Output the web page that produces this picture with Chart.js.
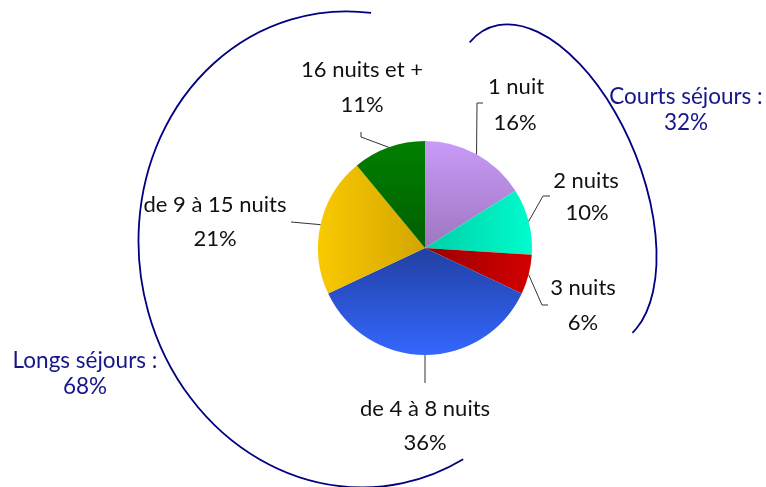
<!DOCTYPE html>
<html>
<head>
<meta charset="utf-8">
<script src="https://cdn.jsdelivr.net/npm/chart.js@4.4.0/dist/chart.umd.min.js"></script>
<style>
  html, body { margin: 0; padding: 0; background: #fff; }
  .chart-container { position: relative; width: 766px; height: 487px; }
</style>
</head>
<body>
<div class="chart-container">
  <canvas id="chart"></canvas>
</div>
<script>
// durée des séjours (en % des séjours)
const categories = ['1 nuit', '2 nuits', '3 nuits', 'de 4 à 8 nuits', 'de 9 à 15 nuits', '16 nuits et +'];
const shares = [16, 10, 6, 36, 21, 11];

const groupNames = ['Courts séjours :', 'Longs séjours :'];
const groupShares = [32, 68];

// slice gradients: direction + two stops
const gradients = [
  { dir: 'up', from: '#9e76bf', to: '#c99af8' },
  { dir: 'right', from: '#00cfa6', to: '#00fccd' },
  { dir: 'right', from: '#9c0000', to: '#d20000' },
  { dir: 'down', from: '#2240a2', to: '#3467ff' },
  { dir: 'left', from: '#d2a600', to: '#f9c900' },
  { dir: 'up', from: '#005f00', to: '#008000' }
];

// label placement, offsets from pie centre (text, percent, leader elbow)
const labelPlace = [
  { t: [91, -161], p: [90, -125], path: [[52, -145], [58, -145]] },
  { t: [161, -67], p: [162, -35], path: [[118, -52], [125, -52]] },
  { t: [158, 40], p: [158, 75], path: [[117, 57], [123, 57]] },
  { t: [0, 161], p: [0, 195], path: [[0, 135]] },
  { t: [-210, -43], p: [-210, -9], path: [[-134, -26]] },
  { t: [-63, -178], p: [-63, -143], path: [[-64, -111], [-64, -116]] }
];

// points traced along the two hand-drawn brackets (an elliptic arc is fitted through them)
const brackets = [
  {
    text: [686, 97], pct: [686, 123], ccw: false,
    pts: [[470,43],[480,32],[503,23],[527,28],[553,45],[580,63],[613,103],[633,153],[647,197],[656,237],[657,260],[655,290],[647,310],[632,332]]
  },
  {
    text: [85, 361], pct: [85, 387], ccw: true,
    pts: [[371,14],[330,12],[280,20],[230,50],[190,97],[152,152],[139,217],[137,240],[143,290],[152,317],[163,350],[217,430],[267,463],[380,485],[430,477],[463,459]]
  }
];

const FONT = 'Lato, "Open Sans", sans-serif';

function pieGeom(chart) {
  const el = chart.getDatasetMeta(0).data[0];
  return { cx: el.x, cy: el.y, r: el.outerRadius };
}

function sliceColor(context) {
  const chart = context.chart;
  const g = gradients[context.dataIndex];
  if (!chart.chartArea) return g.to;
  const a = chart.chartArea;
  const cx = (a.left + a.right) / 2, cy = (a.top + a.bottom) / 2, r = Math.min(a.width, a.height) / 2;
  let grad;
  if (g.dir === 'up') grad = chart.ctx.createLinearGradient(0, cy, 0, cy - r);
  else if (g.dir === 'down') grad = chart.ctx.createLinearGradient(0, cy, 0, cy + r);
  else if (g.dir === 'right') grad = chart.ctx.createLinearGradient(cx, 0, cx + r, 0);
  else grad = chart.ctx.createLinearGradient(cx, 0, cx - r, 0);
  grad.addColorStop(0, g.from);
  grad.addColorStop(1, g.to);
  return grad;
}

// least squares conic fit -> ellipse parameters
function fitEllipse(pts) {
  const mx = pts.reduce((s, p) => s + p[0], 0) / pts.length;
  const my = pts.reduce((s, p) => s + p[1], 0) / pts.length;
  const S = 100;
  const M = [0, 1, 2, 3, 4].map(() => [0, 0, 0, 0, 0, 0]);
  pts.forEach(p => {
    const x = (p[0] - mx) / S, y = (p[1] - my) / S;
    const r = [x * x, x * y, y * y, x, y];
    for (let i = 0; i < 5; i++) {
      for (let j = 0; j < 5; j++) M[i][j] += r[i] * r[j];
      M[i][5] += r[i];
    }
  });
  for (let i = 0; i < 5; i++) {
    let piv = i;
    for (let k = i + 1; k < 5; k++) if (Math.abs(M[k][i]) > Math.abs(M[piv][i])) piv = k;
    [M[i], M[piv]] = [M[piv], M[i]];
    for (let k = 0; k < 5; k++) {
      if (k === i) continue;
      const f = M[k][i] / M[i][i];
      for (let j = i; j < 6; j++) M[k][j] -= f * M[i][j];
    }
  }
  const [a, b, c, d, e] = M.map((row, i) => row[5] / row[i]);
  const det = 4 * a * c - b * b;
  if (det <= 0) return null;
  const x0 = (b * e - 2 * c * d) / det;
  const y0 = (b * d - 2 * a * e) / det;
  const F0 = a * x0 * x0 + b * x0 * y0 + c * y0 * y0 + d * x0 + e * y0 - 1;
  const th = 0.5 * Math.atan2(b, a - c);
  const co = Math.cos(th), si = Math.sin(th);
  const l1 = a * co * co + b * co * si + c * si * si;
  const l2 = a * si * si - b * si * co + c * co * co;
  if (-F0 / l1 <= 0 || -F0 / l2 <= 0) return null;
  return {
    cx: x0 * S + mx, cy: y0 * S + my,
    rx: Math.sqrt(-F0 / l1) * S, ry: Math.sqrt(-F0 / l2) * S, rot: th
  };
}

function paramAngle(el, p) {
  const dx = p[0] - el.cx, dy = p[1] - el.cy;
  const co = Math.cos(el.rot), si = Math.sin(el.rot);
  const u = dx * co + dy * si, v = -dx * si + dy * co;
  return Math.atan2(v / el.ry, u / el.rx);
}

function drawBracket(ctx, b) {
  const el = fitEllipse(b.pts);
  ctx.beginPath();
  if (el) {
    const t0 = paramAngle(el, b.pts[0]);
    const t1 = paramAngle(el, b.pts[b.pts.length - 1]);
    ctx.ellipse(el.cx, el.cy, el.rx, el.ry, el.rot, t0, t1, b.ccw);
  } else {
    b.pts.forEach((p, i) => i ? ctx.lineTo(p[0], p[1]) : ctx.moveTo(p[0], p[1]));
  }
  ctx.stroke();
}

const labelsPlugin = {
  id: 'pieLabels',
  afterDraw(chart) {
    const ctx = chart.ctx;
    const { cx, cy } = pieGeom(chart);
    const arcs = chart.getDatasetMeta(0).data;

    ctx.save();
    // leader lines
    ctx.strokeStyle = '#333';
    ctx.lineWidth = 1;
    arcs.forEach((arc, i) => {
      const mid = (arc.startAngle + arc.endAngle) / 2;
      ctx.beginPath();
      ctx.moveTo(arc.x + Math.cos(mid) * arc.outerRadius, arc.y + Math.sin(mid) * arc.outerRadius);
      labelPlace[i].path.forEach(p => ctx.lineTo(cx + p[0], cy + p[1]));
      ctx.stroke();
    });

    // slice labels
    ctx.fillStyle = '#111';
    ctx.font = '22px ' + FONT;
    ctx.textAlign = 'center';
    ctx.textBaseline = 'middle';
    categories.forEach((name, i) => {
      const lp = labelPlace[i];
      ctx.fillText(name, cx + lp.t[0], cy + lp.t[1]);
      ctx.fillText(shares[i] + '%', cx + lp.p[0], cy + lp.p[1]);
    });

    // group brackets
    ctx.strokeStyle = '#000080';
    ctx.lineWidth = 1.8;
    ctx.fillStyle = '#16168a';
    ctx.font = '22.5px ' + FONT;
    brackets.forEach((b, i) => {
      drawBracket(ctx, b);
      ctx.fillText(groupNames[i], b.text[0], b.text[1]);
      ctx.fillText(groupShares[i] + '%', b.pct[0], b.pct[1]);
    });
    ctx.restore();
  }
};

new Chart(document.getElementById('chart').getContext('2d'), {
  type: 'pie',
  data: {
    labels: categories,
    datasets: [{
      data: shares,
      backgroundColor: sliceColor,
      borderWidth: 0
    }]
  },
  options: {
    responsive: true,
    maintainAspectRatio: false,
    animation: false,
    layout: { padding: { left: 318, right: 234, top: 141, bottom: 132 } },
    plugins: {
      legend: { display: false },
      tooltip: { enabled: false }
    }
  },
  plugins: [labelsPlugin]
});
</script>
</body>
</html>
